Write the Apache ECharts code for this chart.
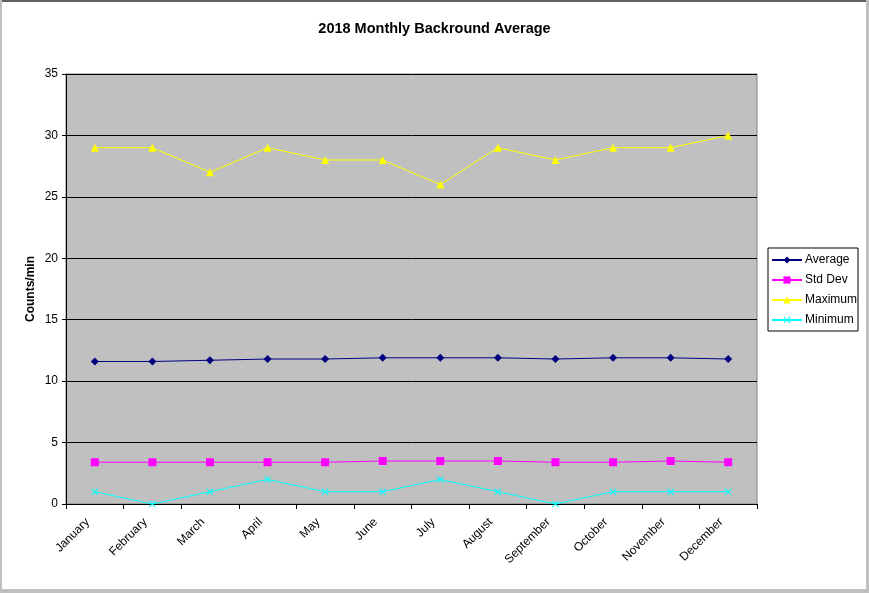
<!DOCTYPE html>
<html>
<head>
<meta charset="utf-8">
<script src="https://cdn.jsdelivr.net/npm/echarts@6/dist/echarts.min.js"></script>
<style>
html,body{margin:0;padding:0;background:#c0c0c0;width:869px;height:593px;overflow:hidden;}
#frame{position:absolute;left:2px;top:0;width:864px;height:587px;background:#fff;border-top:2px solid #606060;}
#chart{position:absolute;left:0;top:0;width:869px;height:593px;}
</style>
</head>
<body>
<div id="frame"></div>
<div id="chart"></div>
<script>
var categories = ['January','February','March','April','May','June','July','August','September','October','November','December'];
var averageVals = [11.6,11.6,11.7,11.8,11.8,11.9,11.9,11.9,11.8,11.9,11.9,11.8];
var stdDevVals = [3.4,3.4,3.4,3.4,3.4,3.5,3.5,3.5,3.4,3.4,3.5,3.4];
var maximumVals = [29,29,27,29,28,28,26,29,28,29,29,30];
var minimumVals = [1,0,1,2,1,1,2,1,0,1,1,1];
var yTicks = [0,5,10,15,20,25,30,35];

var font = 'Liberation Sans, Arial, sans-serif';
var xSym = 'path://M0,1L1,0L5,4L9,0L10,1L6,5L10,9L9,10L5,6L1,10L0,9L4,5Z';

function mk(name, data, color, symbol, size) {
  return {
    name: name, type: 'line', data: data,
    symbol: symbol, symbolSize: size, showSymbol: true,
    lineStyle: {color: color, width: 1},
    itemStyle: {color: color, borderWidth: 0},
    animation: false, silent: true
  };
}

var chart = echarts.init(document.getElementById('chart'), null, {renderer: 'canvas'});
chart.setOption({
  backgroundColor: 'transparent',
  animation: false,
  title: {
    text: '2018 Monthly Backround Average',
    left: 'center', top: 16,
    textStyle: {fontFamily: font, fontSize: 14.5, fontWeight: 'bold', color: '#000'}
  },
  legend: {
    orient: 'vertical', left: 768, top: 248,
    padding: [5, 1, 4, 3],
    itemGap: 6,
    itemWidth: 30, itemHeight: 9,
    backgroundColor: '#fff',
    borderColor: '#000', borderWidth: 1, borderRadius: 0,
    textStyle: {fontFamily: font, fontSize: 12, color: '#000', padding: [0,0,0,-2], lineHeight: 14, height: 14},
    data: ['Average', 'Std Dev', 'Maximum', 'Minimum']
  },
  grid: {left: 66, right: 112, top: 74, bottom: 89,
    show: true, backgroundColor: '#c0c0c0', borderColor: '#808080', borderWidth: 1},
  xAxis: {
    type: 'category', data: categories, boundaryGap: true,
    axisLine: {lineStyle: {color: '#000', width: 1}},
    axisTick: {show: true, alignWithLabel: false, length: 5, lineStyle: {color: '#000'}},
    axisLabel: {rotate: 45, fontFamily: font, fontSize: 12, color: '#000', margin: 9, interval: 0, padding: [0, 10, 0, 0]},
    splitLine: {show: false},
    splitArea: {show: false}
  },
  yAxis: {
    type: 'value', min: yTicks[0], max: yTicks[yTicks.length-1], interval: 5,
    name: 'Counts/min', nameLocation: 'middle', nameGap: 29, nameMoveOverlap: false,
    nameTextStyle: {fontFamily: font, fontSize: 12, fontWeight: 'bold', color: '#000'},
    axisLine: {show: true, lineStyle: {color: '#000', width: 1}},
    axisTick: {show: true, length: 4, lineStyle: {color: '#000'}},
    axisLabel: {fontFamily: font, fontSize: 12, color: '#000', margin: 8},
    splitLine: {show: true, lineStyle: {color: '#000', width: 1}},
    splitArea: {show: false}
  },
  series: [
    mk('Average', averageVals, '#000080', 'diamond', 8),
    mk('Std Dev', stdDevVals, '#ff00ff', 'rect', 8),
    mk('Maximum', maximumVals, '#ffff00', 'triangle', 8),
    mk('Minimum', minimumVals, '#00ffff', xSym, 7)
  ]
});
</script>
</body>
</html>
